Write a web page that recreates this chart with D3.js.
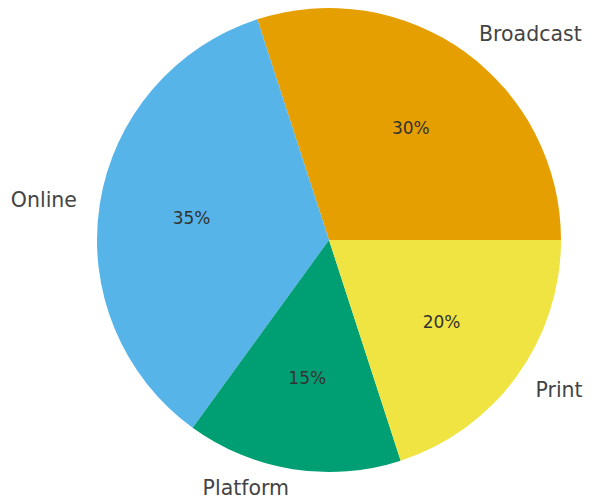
<!DOCTYPE html>
<html>
<head>
<meta charset="utf-8">
<script src="https://cdn.jsdelivr.net/npm/d3@7"></script>
<style>
  html, body { margin: 0; padding: 0; background: #fff; }
  svg { display: block; }
</style>
</head>
<body>
<svg id="chart" width="593" height="500"></svg>
<script>
// Share of audience by channel
const categories = ["Broadcast", "Online", "Platform", "Print"];
const shares = [30, 35, 15, 20];
const colors = ["#E69F00", "#56B4E9", "#009E73", "#F0E442"];

const width = 593, height = 500;
const cx = 329, cy = 240, radius = 232;
const labelSize = 20.5, pctSize = 17;

const svg = d3.select("#chart");
const g = svg.append("g").attr("transform", `translate(${cx},${cy})`);

const data = categories.map((c, i) => ({ name: c, value: shares[i], color: colors[i] }));

// Slices start at 3 o'clock and run counter-clockwise.
// d3.pie angles run clockwise from 12 o'clock, so map: d3Angle = PI/2 - ccwAngle.
const pie = d3.pie()
  .sort(null)
  .value(d => d.value)
  .startAngle(Math.PI / 2)
  .endAngle(Math.PI / 2 - 2 * Math.PI);

const arcs = pie(data);
const arc = d3.arc().innerRadius(0).outerRadius(radius);

g.selectAll("path.slice")
  .data(arcs)
  .join("path")
  .attr("class", "slice")
  .attr("d", arc)
  .attr("fill", d => d.data.color);

const total = d3.sum(shares);
const fmt = d3.format(".0f");

function midPoint(d, r) {
  const a = (d.startAngle + d.endAngle) / 2; // clockwise from 12 o'clock
  return [Math.sin(a) * r, -Math.cos(a) * r];
}

// Keep outer labels inside the drawing area vertically
const yMin = -cy + labelSize * 0.6;
const yMax = height - cy - labelSize * 0.6;

// Category labels just outside the rim, vertically centred on the ink
g.selectAll("text.label")
  .data(arcs)
  .join("text")
  .attr("class", "label")
  .attr("x", d => midPoint(d, radius * 1.1)[0])
  .attr("y", d => Math.max(yMin, Math.min(yMax, midPoint(d, radius * 1.1)[1])))
  .attr("dy", "0.36em")
  .attr("text-anchor", d => midPoint(d, 1)[0] >= 0 ? "start" : "end")
  .attr("font-family", "DejaVu Sans, sans-serif")
  .attr("font-size", labelSize)
  .attr("fill", "#444")
  .text(d => d.data.name);

// Percentage labels inside each slice
g.selectAll("text.pct")
  .data(arcs)
  .join("text")
  .attr("class", "pct")
  .attr("x", d => midPoint(d, radius * 0.6)[0])
  .attr("y", d => midPoint(d, radius * 0.6)[1])
  .attr("dy", "0.36em")
  .attr("text-anchor", "middle")
  .attr("font-family", "DejaVu Sans, sans-serif")
  .attr("font-size", pctSize)
  .attr("fill", "#333")
  .text(d => fmt(d.data.value / total * 100) + "%");
</script>
</body>
</html>
